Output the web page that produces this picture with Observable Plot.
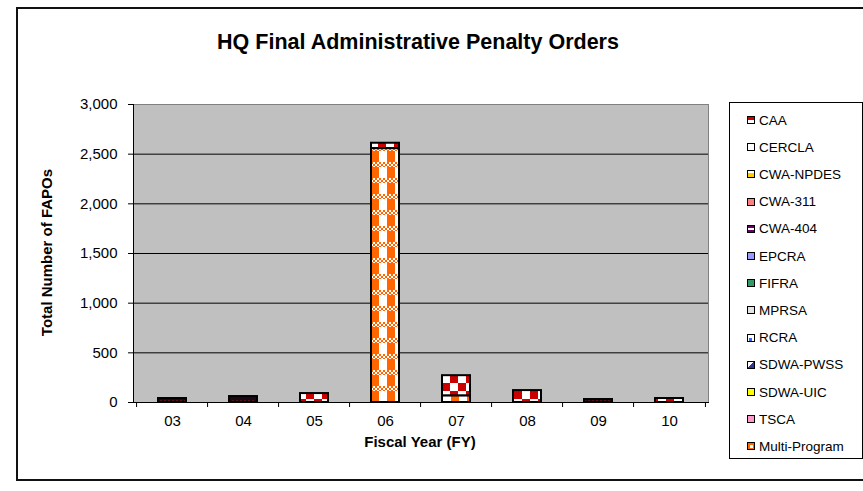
<!DOCTYPE html>
<html><head><meta charset="utf-8">
<script src="https://cdn.jsdelivr.net/npm/d3@7"></script>
<script src="https://cdn.jsdelivr.net/npm/@observablehq/plot@0.6"></script>
<style>
body{margin:0;background:#fff;font-family:"Liberation Sans",Arial,sans-serif;color:#000;}
#wrap{position:relative;width:863px;height:491px;overflow:hidden;background:#fff;}
#frame{position:absolute;left:16px;top:7px;width:880px;height:474px;border:2px solid #111;box-sizing:border-box;}
#chart{position:absolute;left:0;top:0;}
#title{position:absolute;left:0;width:836px;top:32px;text-align:center;font-weight:bold;font-size:21.5px;line-height:21.5px;white-space:nowrap;}
#ylab{position:absolute;left:-104px;top:245px;width:300px;text-align:center;font-weight:bold;font-size:15px;line-height:15px;transform:rotate(-90deg);white-space:nowrap;}
#xlab{position:absolute;left:270px;width:300px;top:434px;text-align:center;font-weight:bold;font-size:15px;line-height:15px;white-space:nowrap;}
#legend{position:absolute;left:729px;top:102px;width:134px;height:357px;border:1px solid #000;box-sizing:border-box;background:#fff;}
.item{position:absolute;left:17px;height:16px;display:flex;align-items:center;font-size:13.5px;white-space:nowrap;}
.sw{width:8px;height:8px;border:1px solid #000;box-sizing:border-box;margin-right:4px;flex:none;}
</style></head><body>
<div id="wrap">
  <div id="frame"></div>
  <div id="chart"></div>
  <div id="title">HQ Final Administrative Penalty Orders</div>
  <div id="ylab">Total Number of FAPOs</div>
  <div id="xlab">Fiscal Year (FY)</div>
  <div id="legend"></div>
</div>
<script>
// ---- data ----
const categories = ["03","04","05","06","07","08","09","10"];
const seriesNames = ["CAA","CERCLA","CWA-NPDES","CWA-311","CWA-404","EPCRA","FIFRA","MPRSA","RCRA","SDWA-PWSS","SDWA-UIC","TSCA","Multi-Program"];
const caa          = [0, 0, 90, 55, 205, 120, 0, 40];
const cwa404       = [40, 60, 0, 0, 0, 0, 30, 0];
const multiProgram = [0, 0, 0, 2555, 65, 0, 0, 0];
const yTicks = [0, 500, 1000, 1500, 2000, 2500, 3000];

const seriesValues = [["CAA", caa], ["CWA-404", cwa404], ["Multi-Program", multiProgram]];
const rows = seriesValues.flatMap(([s, vals]) => categories.map((c, i) => ({year: c, series: s, value: vals[i]})))
  .filter(d => d.value > 0);

// ---- styles ----
const fillFor = {"CAA": "url(#p-caa)", "CWA-404": "url(#p-cwa404)", "Multi-Program": "url(#p-multi)"};
const swatch = {
  "CAA": "linear-gradient(#CC0000 50%, #fff 50%)",
  "CERCLA": "#fff",
  "CWA-NPDES": "linear-gradient(#fff 35%, #FFCC00 35%)",
  "CWA-311": "#FF8080",
  "CWA-404": "linear-gradient(#660066 35%, #fff 35%, #fff 70%, #660066 70%)",
  "EPCRA": "#9999FF",
  "FIFRA": "#339966",
  "MPRSA": "#E3E3E3",
  "RCRA": "linear-gradient(#3366FF,#3366FF) no-repeat 1px 3px / 3px 3px, #fff",
  "SDWA-PWSS": "linear-gradient(135deg, #fff 45%, #333399 45%)",
  "SDWA-UIC": "#FFFF00",
  "TSCA": "#FF99CC",
  "Multi-Program": "linear-gradient(#fff,#fff) no-repeat 2px 2px / 3px 3px, #FF6600"
};

const W = 863, H = 491, mL = 133, mR = 155, mT = 104, mB = 89;
const step = (W - mL - mR) / categories.length;

const svg = Plot.plot({
  width: W, height: H,
  marginLeft: mL, marginRight: mR, marginTop: mT, marginBottom: mB,
  style: {fontFamily: '"Liberation Sans", Arial, sans-serif', fontSize: "15px", color: "#000", background: "transparent", overflow: "visible"},
  x: {domain: categories, paddingInner: 0.6, paddingOuter: 0.3, label: null, axis: null},
  y: {domain: [0, 3000], label: null, axis: null},
  color: {type: "identity"},
  marks: [
    Plot.frame({fill: "#C0C0C0", stroke: "#808080"}),
    Plot.ruleY(yTicks.filter(v => v > 0 && v < 3000), {stroke: "#000", strokeWidth: 1}),
    Plot.barY(rows, Plot.stackY({
      x: "year", y: "value", z: "series",
      order: [...seriesNames].reverse(),
      fill: d => fillFor[d.series],
      stroke: "#000", strokeWidth: 2
    })),
    Plot.frame({anchor: "left", stroke: "#000"}),
    Plot.frame({anchor: "bottom", stroke: "#000"}),
    Plot.axisY({ticks: yTicks, tickSize: 5, tickPadding: 11, tickFormat: d3.format(","), label: null}),
    Plot.axisX({ticks: categories, tickSize: 5, tickFormat: () => "", dx: -step / 2, label: null}),
    Plot.axisX({ticks: [categories[categories.length - 1]], tickSize: 5, tickFormat: () => "", dx: step / 2, label: null}),
    Plot.axisX({ticks: categories, tickSize: 0, tickPadding: 13, label: null})
  ]
});

// patterns
const defs = d3.select(svg).insert("defs", ":first-child");
const pc = defs.append("pattern").attr("id", "p-caa").attr("patternUnits", "userSpaceOnUse")
  .attr("x", 2).attr("y", 7).attr("width", 16).attr("height", 16);
pc.append("rect").attr("width", 16).attr("height", 16).attr("fill", "#fff");
pc.append("rect").attr("x", 0).attr("y", 0).attr("width", 8).attr("height", 8).attr("fill", "#CC0000");
pc.append("rect").attr("x", 8).attr("y", 8).attr("width", 8).attr("height", 8).attr("fill", "#CC0000");

const pw = defs.append("pattern").attr("id", "p-cwa404").attr("patternUnits", "userSpaceOnUse")
  .attr("width", 4).attr("height", 4);
pw.append("rect").attr("width", 4).attr("height", 4).attr("fill", "#1c0812");
pw.append("rect").attr("x", 0).attr("y", 0).attr("width", 2).attr("height", 1).attr("fill", "#5a1010");

const pm = defs.append("pattern").attr("id", "p-multi").attr("patternUnits", "userSpaceOnUse")
  .attr("x", 3).attr("y", 2).attr("width", 16).attr("height", 16);
pm.append("rect").attr("width", 16).attr("height", 16).attr("fill", "#fff");
pm.append("rect").attr("x", 0).attr("y", 5).attr("width", 8).attr("height", 11).attr("fill", "#FF6600");
for (let yy = 0; yy < 5; yy += 2) for (let xx = 0; xx < 16; xx += 2) {
  if (((xx + yy) / 2) % 2 === 0) pm.append("rect").attr("x", xx).attr("y", yy).attr("width", 2).attr("height", Math.min(2, 5 - yy)).attr("fill", "#FF6600");
}

document.getElementById("chart").appendChild(svg);

// legend
const legend = document.getElementById("legend");
seriesNames.forEach((s, i) => {
  const it = document.createElement("div");
  it.className = "item";
  it.style.top = (119 + i * 27.2 - 102 - 8) + "px";
  const sw = document.createElement("span");
  sw.className = "sw";
  sw.style.background = swatch[s];
  it.appendChild(sw);
  it.appendChild(document.createTextNode(s));
  legend.appendChild(it);
});
</script>
</body></html>
